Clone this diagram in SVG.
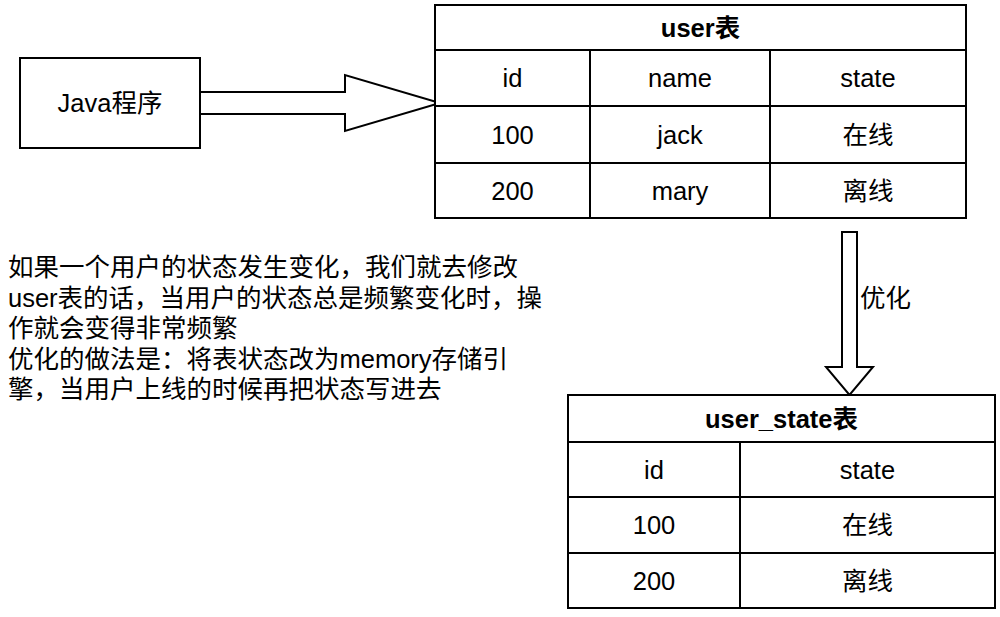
<svg xmlns="http://www.w3.org/2000/svg" width="1000" height="617" viewBox="0 0 1000 617">
<style>
  .box { fill: #ffffff; stroke: #000000; stroke-width: 2; }
  .ln { stroke: #000000; stroke-width: 2; fill: none; }
  .arrow { fill: #ffffff; stroke: #000000; stroke-width: 2; stroke-linejoin: miter; }
  text { font-family: "Liberation Sans", "Noto Sans CJK SC", sans-serif; font-size: 25.5px; fill: #000000; }
  .c { text-anchor: middle; }
  .b { font-weight: bold; }
</style>
<rect width="1000" height="617" fill="#ffffff"/>

<g id="connectors">
  <polygon class="arrow" points="200,92 345,92 345,75 440,103 345,131 345,114 200,114"/>
  <polygon class="arrow" points="842,232 857,232 857,367 873,367 849.5,395 826,367 842,367"/>
  <text x="860" y="307">优化</text>
</g>

<g id="java">
  <rect class="box" x="20" y="58" width="180" height="90"/>
  <text class="c" x="110" y="112">Java程序</text>
</g>

<g id="user-table">
  <rect class="box" x="435" y="5" width="531" height="213"/>
  <line class="ln" x1="435" y1="50" x2="966" y2="50"/>
  <line class="ln" x1="435" y1="106" x2="966" y2="106"/>
  <line class="ln" x1="435" y1="163" x2="966" y2="163"/>
  <line class="ln" x1="590" y1="50" x2="590" y2="218"/>
  <line class="ln" x1="770" y1="50" x2="770" y2="218"/>
  <text class="c b" x="700.5" y="37">user表</text>
  <text class="c" x="512.5" y="87">id</text>
  <text class="c" x="680" y="87">name</text>
  <text class="c" x="868" y="87">state</text>
  <text class="c" x="512.5" y="143.5">100</text>
  <text class="c" x="680" y="143.5">jack</text>
  <text class="c" x="868" y="143.5">在线</text>
  <text class="c" x="512.5" y="199.5">200</text>
  <text class="c" x="680" y="199.5">mary</text>
  <text class="c" x="868" y="199.5">离线</text>
</g>

<g id="user-state-table">
  <rect class="box" x="568" y="395" width="427" height="213"/>
  <line class="ln" x1="568" y1="442" x2="995" y2="442"/>
  <line class="ln" x1="568" y1="497" x2="995" y2="497"/>
  <line class="ln" x1="568" y1="553" x2="995" y2="553"/>
  <line class="ln" x1="740" y1="442" x2="740" y2="608"/>
  <text class="c b" x="781.5" y="428">user_state表</text>
  <text class="c" x="654" y="478.5">id</text>
  <text class="c" x="867.5" y="478.5">state</text>
  <text class="c" x="654" y="534">100</text>
  <text class="c" x="867.5" y="534">在线</text>
  <text class="c" x="654" y="589.5">200</text>
  <text class="c" x="867.5" y="589.5">离线</text>
</g>

<g id="note">
  <text x="8" y="276">如果一个用户的状态发生变化，我们就去修改</text>
  <text x="8" y="306.6">user表的话，当用户的状态总是频繁变化时，操</text>
  <text x="8" y="337.2">作就会变得非常频繁</text>
  <text x="8" y="367.8">优化的做法是：将表状态改为memory存储引</text>
  <text x="8" y="398.4">擎，当用户上线的时候再把状态写进去</text>
</g>
</svg>
